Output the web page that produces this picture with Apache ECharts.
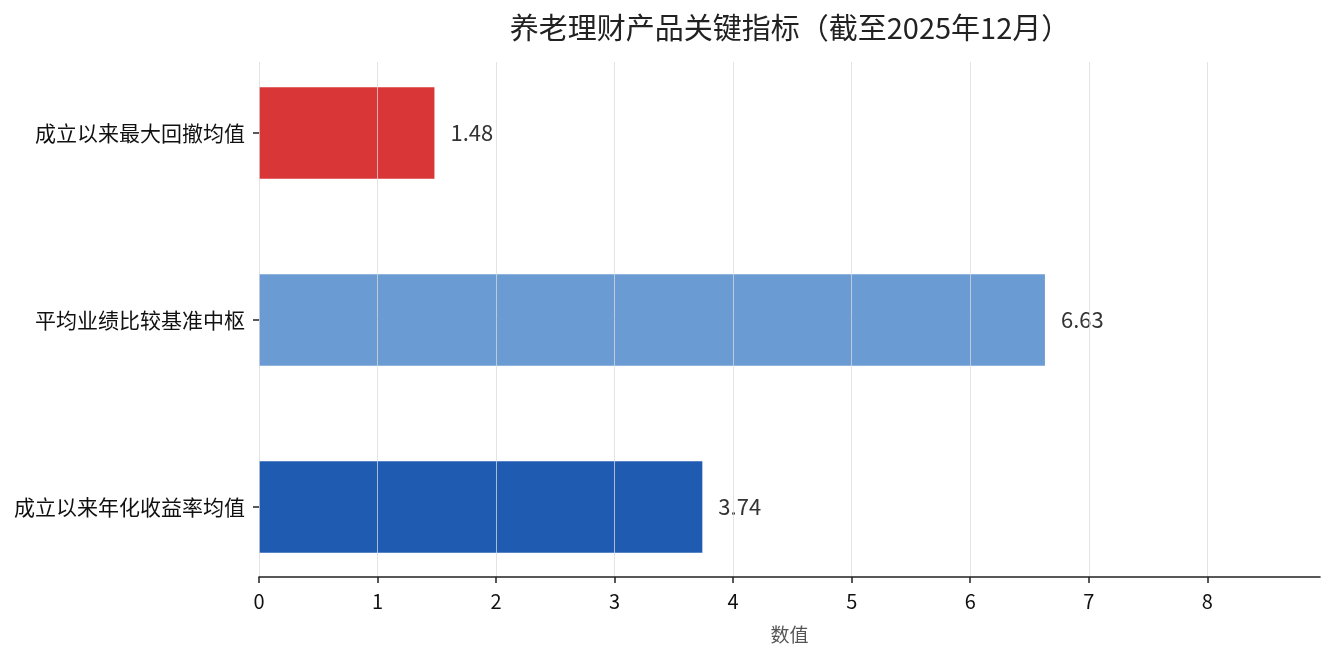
<!DOCTYPE html>
<html>
<head>
<meta charset="utf-8">
<script src="https://cdn.jsdelivr.net/npm/echarts@6/dist/echarts.min.js"></script>
<style>
  html, body { margin: 0; padding: 0; background: #fff; }
  #chart { width: 1335px; height: 660px; }
</style>
</head>
<body>
<div id="chart"></div>
<script>
// 数据（自下而上）
let categories = ['成立以来年化收益率均值', '平均业绩比较基准中枢', '成立以来最大回撤均值'];
let values = [3.74, 6.63, 1.48];
let barColors = ['#1f5bb0', '#6b9bd3', '#d93737'];
let xTicks = [0, 1, 2, 3, 4, 5, 6, 7, 8];

let xMax = Math.max(...values) * 1.35;
let font = '"Noto Sans CJK SC", "Noto Sans", sans-serif';

let myChart = echarts.init(document.getElementById('chart'));

myChart.setOption({
    textStyle: { fontFamily: font },
    title: {
        text: '养老理财产品关键指标（截至2025年12月）',
        left: 785,
        top: 8,
        textAlign: 'center',
        textStyle: { fontSize: 29, fontWeight: 'normal', color: '#222', fontFamily: font }
    },
    grid: [
        // 柱子所在网格
        { left: 259, right: 15, top: 39.5, bottom: 59.5, containLabel: false },
        // 坐标轴和网格线
        { left: 259, right: 15, top: 62, bottom: 83, containLabel: false }
    ],
    xAxis: [{
        gridIndex: 0,
        type: 'value',
        min: 0,
        max: xMax,
        show: false
    }, {
        gridIndex: 1,
        type: 'value',
        min: 0,
        max: xMax,
        interval: 1,
        z: 5,
        name: '数值',
        nameLocation: 'middle',
        nameGap: 48,
        nameTextStyle: { fontSize: 19, color: '#555', fontFamily: font },
        axisLine: { lineStyle: { color: '#222', width: 1.6 } },
        axisTick: { show: true, length: 6, lineStyle: { color: '#222', width: 1.5 }, customValues: xTicks },
        axisLabel: { fontSize: 20, color: '#111', margin: 14, customValues: xTicks, fontFamily: font },
        splitLine: { show: true, lineStyle: { color: 'rgba(218,218,218,0.75)', width: 1 } }
    }],
    yAxis: [{
        gridIndex: 0,
        type: 'category',
        data: categories,
        axisLine: { show: false },
        axisTick: { show: true, alignWithLabel: true, length: 6, lineStyle: { color: '#222', width: 1.5 } },
        axisLabel: { fontSize: 21, color: '#111', margin: 14, fontFamily: font },
        splitLine: { show: false }
    }, {
        gridIndex: 1,
        type: 'value',
        show: false
    }],
    series: [{
        name: '数值',
        type: 'bar',
        xAxisIndex: 0,
        yAxisIndex: 0,
        barWidth: '49%',
        data: values.map((v, i) => ({ value: v, itemStyle: { color: barColors[i] } })),
        label: {
            show: true,
            position: 'right',
            distance: 16,
            fontSize: 22,
            color: '#333',
            fontFamily: font
        }
    }]
});
</script>
</body>
</html>
